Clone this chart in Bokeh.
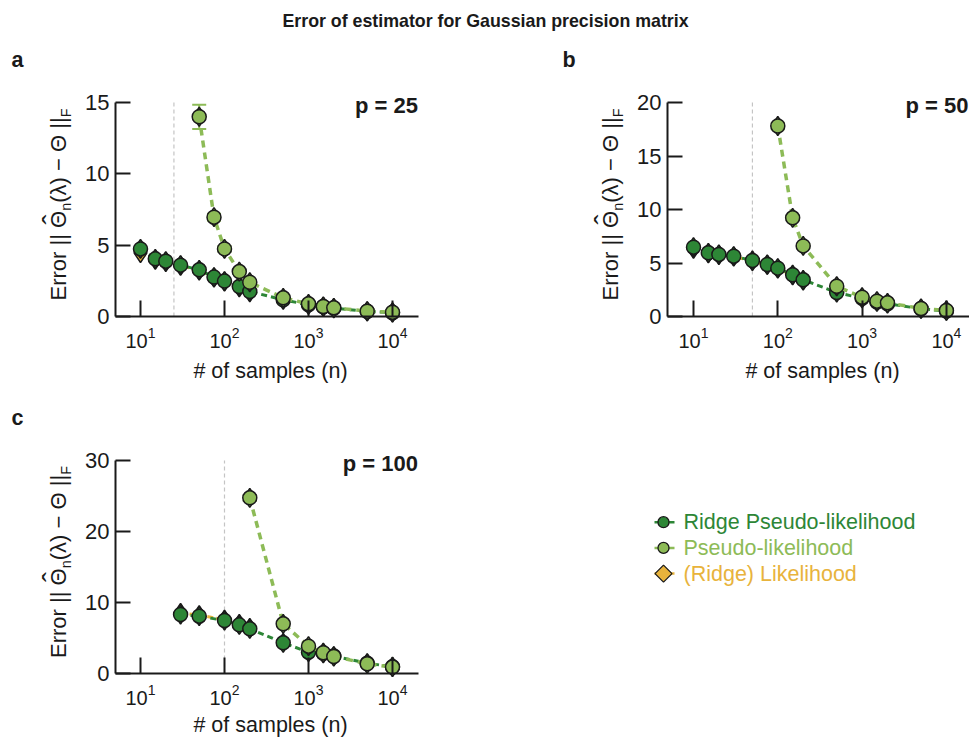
import numpy as np
from bokeh.plotting import figure
from bokeh.layouts import column, row
from bokeh.models import FixedTicker, Range1d, ColumnDataSource
from bokeh.embed import file_html
from bokeh.resources import INLINE
from bokeh.core.properties import value

FONT = "Liberation Sans"
DARK = "#2d8636"
LIGHT = "#8dbb57"
ORANGE = "#e8b33c"
BLACK = "#1a1a1a"

title_text = "Error of estimator for Gaussian precision matrix"
x_label = "# of samples (n)"
# y label pieces: (text, is_subscript)
ylab_parts = ["Error || Θ", "n", "(λ) − Θ ||", "F"]
ylab_sub = [False, True, False, True]
ylab_hat = "ˆ"
x_ticks = [10, 100, 1000, 10000]
legend_labels = ["Ridge Pseudo-likelihood", "Pseudo-likelihood", "(Ridge) Likelihood"]
legend_colors = [DARK, LIGHT, ORANGE]

# ---- Panel a (p = 25)
a_p = 25
a_y_ticks = [0, 5, 10, 15]
a_rpl_n = [10, 15, 20, 30, 50, 75, 100, 150, 200, 500, 1000, 1500, 2000, 5000, 10000]
a_rpl = [4.74, 4.04, 3.88, 3.60, 3.27, 2.76, 2.48, 2.10, 1.75, 1.17, 0.82, 0.68, 0.58, 0.36, 0.27]
a_pl_n = [50, 75, 100, 150, 200, 500, 1000, 1500, 2000, 5000, 10000]
a_pl = [14.0, 6.96, 4.74, 3.15, 2.40, 1.31, 0.89, 0.70, 0.61, 0.37, 0.30]
a_pl_sd = [0.85, 0.25, 0.2, 0.15, 0.12, 0.08, 0.05, 0.05, 0.04, 0.03, 0.03]
a_rl_n = [10, 15, 20, 30, 50, 75, 100, 150, 200]
a_rl = [4.45, 3.98, 3.82, 3.56, 3.22, 2.72, 2.44, 2.05, 1.70]

# ---- Panel b (p = 50)
b_p = 50
b_y_ticks = [0, 5, 10, 15, 20]
b_rpl_n = [10, 15, 20, 30, 50, 75, 100, 150, 200, 500, 1000, 1500, 2000, 5000, 10000]
b_rpl = [6.48, 5.95, 5.80, 5.64, 5.23, 4.86, 4.52, 3.90, 3.43, 2.24, 1.70, 1.36, 1.20, 0.72, 0.52]
b_pl_n = [100, 150, 200, 500, 1000, 1500, 2000, 5000, 10000]
b_pl = [17.8, 9.22, 6.60, 2.83, 1.80, 1.43, 1.28, 0.75, 0.56]
b_pl_sd = [0.3, 0.2, 0.15, 0.08, 0.05, 0.05, 0.04, 0.03, 0.03]
b_rl_n = [10, 15, 20, 30, 50, 75, 100, 150, 200]
b_rl = [6.32, 5.90, 5.75, 5.60, 5.18, 4.82, 4.48, 3.85, 3.36]

# ---- Panel c (p = 100)
c_p = 100
c_y_ticks = [0, 10, 20, 30]
c_rpl_n = [30, 50, 100, 150, 200, 500, 1000, 1500, 2000, 5000, 10000]
c_rpl = [8.31, 8.07, 7.46, 6.85, 6.29, 4.32, 3.00, 2.85, 2.45, 1.45, 0.95]
c_pl_n = [200, 500, 1000, 1500, 2000, 5000, 10000]
c_pl = [24.74, 7.00, 3.85, 2.92, 2.40, 1.37, 0.90]
c_pl_sd = [0.4, 0.15, 0.08, 0.06, 0.05, 0.04, 0.03]
c_rl_n = [30, 50, 100, 150, 200]
c_rl = [8.55, 8.22, 7.58, 6.97, 6.42]

# approximate Arial / Liberation Sans advance widths (em) for label layout
ADV = {"E": .667, "r": .333, "o": .556, " ": .278, "|": .26, "Θ": .778, "n": .556,
       "(": .333, ")": .333, "λ": .5, "−": .584, "F": .611}


def text_w(s, size):
    return sum(ADV.get(ch, .556) for ch in s) * size


def panel(letter, p_val, rpl_n, rpl, pl_n, pl, pl_sd, rl_n, rl, y_top, y_ticks,
          win, dec10_w, ppd, spine_w, right_w, y0_w, ytop_w,
          letter_w, p_right_w, tick_standoff, xlab_dy):
    x0, y0, w, h = win

    def xd(wx):
        return 10 ** (1 + (wx - dec10_w) / ppd)

    ppu = (y0_w - ytop_w) / y_top

    def yd(wy):
        return (y0_w - wy) / ppu

    spine_x = xd(spine_w)
    fig = figure(width=w, height=h, x_axis_type="log",
                 x_range=Range1d(xd(x0), xd(x0 + w)), y_range=Range1d(yd(y0 + h), yd(y0)),
                 output_backend="svg", toolbar_location=None, tools="", title=None,
                 min_border=0)
    fig.outline_line_color = None
    fig.grid.visible = False
    fig.background_fill_color = "white"
    fig.border_fill_color = "white"

    xa = fig.xaxis[0]
    ya = fig.yaxis[0]
    xa.ticker = FixedTicker(ticks=x_ticks, minor_ticks=[])
    ya.ticker = FixedTicker(ticks=y_ticks, minor_ticks=[])
    for ax in (xa, ya):
        ax.axis_line_width = 2
        ax.axis_line_color = BLACK
        ax.major_tick_out = 0
        ax.major_tick_line_width = 2
        ax.major_tick_line_color = BLACK
        ax.minor_tick_line_color = None
        ax.major_label_text_font = FONT
        ax.major_label_text_color = BLACK
    xa.fixed_location = 0
    xa.bounds = (spine_x, xd(right_w))
    ya.fixed_location = spine_x
    ya.bounds = (0, y_top)
    xa.major_tick_in = 16
    ya.major_tick_in = 15
    xa.major_label_text_font_size = "20px"
    ya.major_label_text_font_size = "22px"
    xa.major_label_standoff = tick_standoff
    ya.major_label_standoff = 6

    # dashed reference line at n = p
    fig.segment(x0=[p_val], y0=[0], x1=[p_val], y1=[y_top], line_color="#c4c4c4",
                line_dash="4 3", line_width=1.2)

    # (Ridge) Likelihood
    fig.line(rl_n, rl, line_color=ORANGE, line_width=3, line_dash="6 3")
    fig.scatter(rl_n, rl, marker="diamond", size=19, fill_color=ORANGE,
                line_color=BLACK, line_width=1.5)
    # Ridge Pseudo-likelihood
    fig.line(rpl_n, rpl, line_color=DARK, line_width=3, line_dash="6 4")
    fig.scatter(rpl_n, rpl, marker="diamond", size=19, fill_color=DARK,
                line_color=BLACK, line_width=1.5)
    fig.scatter(rpl_n, rpl, marker="circle", size=14, fill_color=DARK,
                line_color=BLACK, line_width=1.5)
    # Pseudo-likelihood
    fig.line(pl_n, pl, line_color=LIGHT, line_width=3.5, line_dash="7 5")
    lo = np.array(pl) - np.array(pl_sd)
    hi = np.array(pl) + np.array(pl_sd)
    fig.segment(x0=pl_n, y0=lo, x1=pl_n, y1=hi, line_color=LIGHT, line_width=2)
    fig.scatter(pl_n, lo, marker="dash", size=14, line_color=LIGHT, line_width=2)
    fig.scatter(pl_n, hi, marker="dash", size=14, line_color=LIGHT, line_width=2)
    fig.scatter(pl_n, pl, marker="diamond", size=19, fill_color=LIGHT,
                line_color=BLACK, line_width=1.5)
    fig.scatter(pl_n, pl, marker="circle", size=14, fill_color=LIGHT,
                line_color=BLACK, line_width=1.5)

    # panel letter
    fig.text(x=[xd(letter_w)], y=[yd(ytop_w - 35.3 - 7.5)], text=[letter],
             text_font=value(FONT), text_font_size="21.5px", text_font_style="bold",
             text_color=BLACK, text_align="left", text_baseline="middle")
    # p label
    fig.text(x=[xd(p_right_w)], y=[yd(ytop_w + 11 - 7.7)], text=[f"p = {p_val}"],
             text_font=value(FONT), text_font_size="22px", text_font_style="bold",
             text_color=BLACK, text_align="right", text_baseline="middle")
    # x label
    fig.text(x=[xd((spine_w + right_w) / 2 + 3.5)], y=[yd(y0_w + xlab_dy)], text=[x_label],
             text_font=value(FONT), text_font_size="21.5px", text_color=BLACK,
             text_align="center", text_baseline="middle")

    # rotated y label built from pieces (main text + subscripts + hat)
    S, s = 22.0, 14.5
    cur_y = (ytop_w + y0_w) / 2 + 91
    xs, ys, txt, sizes = [], [], [], []
    theta_center = None
    for part, sub in zip(ylab_parts, ylab_sub):
        size = s if sub else S
        xs.append(xd(spine_w - (49.6 if sub else 56.7)))
        ys.append(yd(cur_y))
        txt.append(part)
        sizes.append(f"{size}px")
        if theta_center is None and part.endswith("Θ"):
            theta_center = cur_y - text_w(part, S) + text_w("Θ", S) / 2
        cur_y -= text_w(part, size)
    src = ColumnDataSource(dict(x=xs, y=ys, text=txt, size=sizes))
    fig.text(x="x", y="y", text="text", source=src, angle=np.pi / 2,
             text_font=value(FONT), text_font_size="size", text_color=BLACK,
             text_align="left", text_baseline="middle")
    fig.text(x=[xd(spine_w - 62.6)], y=[yd(theta_center)], text=[ylab_hat],
             angle=np.pi / 2, text_font=value(FONT), text_font_size="30px",
             text_color=BLACK, text_align="center", text_baseline="middle")
    return fig


fa = panel("a", a_p, a_rpl_n, a_rpl, a_pl_n, a_pl, a_pl_sd, a_rl_n, a_rl, 15, a_y_ticks,
           (0, 48, 560, 352), 140, 84.0, 115, 418, 316, 102, 11, 417.5, 10, 54)
fb = panel("b", b_p, b_rpl_n, b_rpl, b_pl_n, b_pl, b_pl_sd, b_rl_n, b_rl, 20, b_y_ticks,
           (560, 48, 409, 352), 693, 84.3, 667, 970, 316, 102, 562, 968, 10, 54)
fc = panel("c", c_p, c_rpl_n, c_rpl, c_pl_n, c_pl, c_pl_sd, c_rl_n, c_rl, 30, c_y_ticks,
           (0, 400, 560, 337), 140, 84.0, 115, 418, 673, 460, 11, 417.5, 10, 51)

# ---- title
tf = figure(width=969, height=48, x_range=Range1d(0, 969), y_range=Range1d(0, 48),
            x_axis_type=None, y_axis_type=None, output_backend="svg",
            toolbar_location=None, tools="", title=None, min_border=0)
tf.outline_line_color = None
tf.grid.visible = False
tf.text(x=[485], y=[27.7], text=[title_text], text_align="center",
        text_baseline="middle", text_font=value(FONT), text_font_size="17.8px",
        text_font_style="bold", text_color=BLACK)

# ---- legend (frame covers the whole figure; pixel coordinates)
leg = figure(width=409, height=337, x_range=Range1d(0, 409), y_range=Range1d(0, 337),
             x_axis_type=None, y_axis_type=None, output_backend="svg",
             toolbar_location=None, tools="", title=None, min_border=0)
leg.outline_line_color = None
leg.grid.visible = False
row_y = [215.3 - 25.7 * i for i in range(3)]
src = ColumnDataSource(dict(x=[123.0] * 3, y=row_y, text=legend_labels, color=legend_colors))
for i, col in enumerate(legend_colors):
    leg.line([94, 114], [row_y[i], row_y[i]], line_color=col, line_width=2.5)
leg.scatter([103, 103], row_y[:2], marker="circle", size=11, fill_color=legend_colors[:2],
            line_color=BLACK, line_width=1.3)
leg.scatter([103], row_y[2:], marker="square", angle=np.pi / 4, size=12,
            fill_color=ORANGE, line_color=BLACK, line_width=1.3)
leg.text(x="x", y="y", text="text", text_color="color", source=src,
         text_baseline="middle", text_font=value(FONT), text_font_size="21.5px")

layout = column(tf, row(fa, fb), row(fc, leg))
open("out.html", "w").write(file_html(layout, INLINE))
